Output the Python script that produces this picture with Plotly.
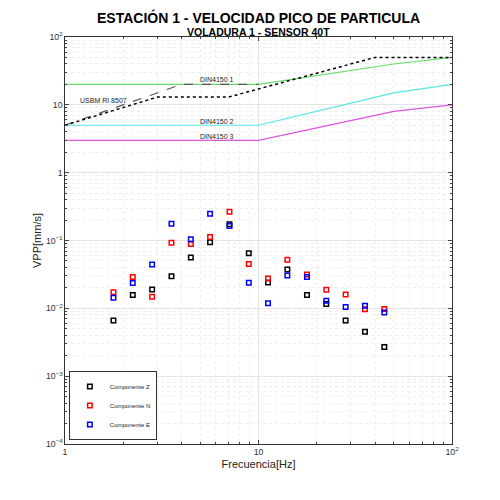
import plotly.graph_objects as go

freq = [1.78, 2.24, 2.82, 3.55, 4.47, 5.62, 7.08, 8.91, 11.2, 14.1, 17.8, 22.4, 28.2, 35.5, 44.7]
vz = [0.0066, 0.0157, 0.019, 0.0296, 0.056, 0.094, 0.173, 0.065, 0.024, 0.0375, 0.0157, 0.0116, 0.0066, 0.0045, 0.0027]
vn = [0.0172, 0.029, 0.0148, 0.0925, 0.089, 0.113, 0.265, 0.045, 0.0276, 0.052, 0.0316, 0.0188, 0.016, 0.0097, 0.0098]
ve = [0.0143, 0.0236, 0.0443, 0.176, 0.104, 0.248, 0.163, 0.0238, 0.0119, 0.0305, 0.029, 0.0129, 0.0105, 0.0109, 0.0087]

din_f = [1, 10, 50, 100]
din1 = [20, 20, 40, 50]
din2 = [5, 5, 15, 20]
din3 = [3, 3, 8, 10]
usbm_f = [1, 3.0, 7.0, 40, 100]
usbm_v = [5, 13, 13, 50, 50]
usbm2_f = [1, 4.0, 10]
usbm2_v = [5, 20, 20]

fig = go.Figure()
fig.add_trace(go.Scatter(x=din_f, y=din1, mode="lines", line=dict(color="#66dd66", width=1.2), showlegend=False))
fig.add_trace(go.Scatter(x=din_f, y=din2, mode="lines", line=dict(color="#55e5e5", width=1.2), showlegend=False))
fig.add_trace(go.Scatter(x=din_f, y=din3, mode="lines", line=dict(color="#dd55dd", width=1.2), showlegend=False))
fig.add_trace(go.Scatter(x=usbm2_f, y=usbm2_v, mode="lines", line=dict(color="#555555", width=1.2, dash="dash"), showlegend=False))
fig.add_trace(go.Scatter(x=usbm_f, y=usbm_v, mode="lines", line=dict(color="black", width=1.5, dash="dot"), showlegend=False))

for name, v, c in [("Componente Z", vz, "black"), ("Componente N", vn, "red"), ("Componente E", ve, "blue")]:
    fig.add_trace(go.Scatter(x=freq, y=v, mode="markers", name=name,
                             marker=dict(symbol="square-open", color=c, size=4.5, line=dict(width=1.5))))

labels = [(0.2, 1.07, "USBM RI 8507"), (0.785, 1.38, "DIN4150 1"), (0.785, 0.76, "DIN4150 2"), (0.785, 0.53, "DIN4150 3")]
for x, y, t in labels:
    fig.add_annotation(x=x, y=y, xref="x", yref="y", text=t, showarrow=False,
                       font=dict(size=7, color="#222"), xanchor="center")

fig.add_annotation(x=0.5, y=1.0, xref="paper", yref="paper", yshift=30, text="<b>ESTACIÓN 1 - VELOCIDAD PICO DE PARTICULA</b>",
                   showarrow=False, font=dict(size=14, color="black"))
fig.add_annotation(x=0.5, y=1.0, xref="paper", yref="paper", yshift=13, text="<b>VOLADURA 1 - SENSOR 40T</b>",
                   showarrow=False, font=dict(size=10.5, color="black"))

axis = dict(type="log", showline=True, linecolor="#333", linewidth=1, mirror="ticks", ticks="inside", ticklen=4,
            gridcolor="#e4e4e4", exponentformat="power", dtick=1, tickfont=dict(size=7, color="#333"),
            minor=dict(ticks="inside", ticklen=2, showgrid=True, gridcolor="#eeeeee", griddash="dot"), zeroline=False)
fig.update_xaxes(**axis, range=[0, 2], title=dict(text="Frecuencia[Hz]", font=dict(size=11, color="#222"), standoff=4))
fig.update_yaxes(**axis, range=[-4, 2], title=dict(text="VPP[mm/s]", font=dict(size=11, color="#222"), standoff=2))

fig.update_layout(width=500, height=500, margin=dict(l=57, r=56, t=29, b=64),
                  plot_bgcolor="white", paper_bgcolor="white", font=dict(family="Liberation Sans"),
                  legend=dict(x=0.01, y=0.01, xanchor="left", yanchor="bottom", bgcolor="white",
                              bordercolor="#333", borderwidth=1, font=dict(size=6, color="#222"),
                              tracegroupgap=0, itemwidth=30))
fig.write_html("out.html")
